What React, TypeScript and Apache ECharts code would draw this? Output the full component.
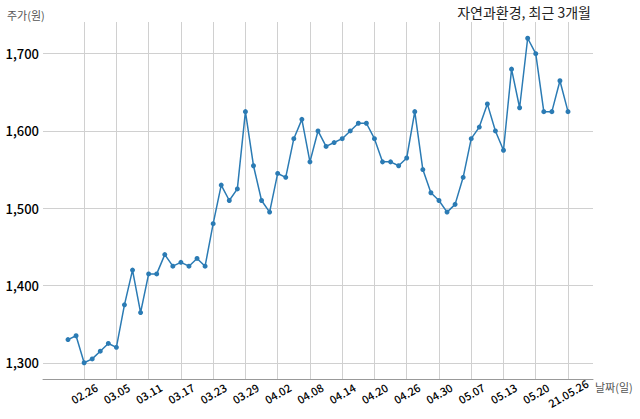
import { useEffect, useRef } from 'react'
import * as echarts from 'echarts'

// 거래일 (21.02.24 ~ 21.05.26)
const dates = [
  '02.24', '02.25', '02.26', '03.02', '03.03', '03.04', '03.05', '03.08',
  '03.09', '03.10', '03.11', '03.12', '03.15', '03.16', '03.17', '03.18',
  '03.19', '03.22', '03.23', '03.24', '03.25', '03.26', '03.29', '03.30',
  '03.31', '04.01', '04.02', '04.05', '04.06', '04.07', '04.08', '04.09',
  '04.12', '04.13', '04.14', '04.15', '04.16', '04.19', '04.20', '04.21',
  '04.22', '04.23', '04.26', '04.27', '04.28', '04.29', '04.30', '05.03',
  '05.04', '05.06', '05.07', '05.10', '05.11', '05.12', '05.13', '05.14',
  '05.17', '05.18', '05.20', '05.21', '05.24', '05.25', '21.05.26',
]

const prices = [
  1330, 1335, 1300, 1305, 1315, 1325, 1320, 1375,
  1420, 1365, 1415, 1415, 1440, 1425, 1430, 1425,
  1435, 1425, 1480, 1530, 1510, 1525, 1625, 1555,
  1510, 1495, 1545, 1540, 1590, 1615, 1560, 1600,
  1580, 1585, 1590, 1600, 1610, 1610, 1590, 1560,
  1560, 1555, 1565, 1625, 1550, 1520, 1510, 1495,
  1505, 1540, 1590, 1605, 1635, 1600, 1575, 1680,
  1630, 1720, 1700, 1625, 1625, 1665, 1625,
]

// 눈금을 표시할 거래일 위치
const xTickIndexes = [2, 6, 10, 14, 18, 22, 26, 30, 34, 38, 42, 46, 50, 54, 58, 62]
const yTicks = [1300, 1400, 1500, 1600, 1700]

const FONT = '"Noto Sans CJK KR", "Noto Sans", sans-serif'

export default function App() {
  const chartRef = useRef<HTMLDivElement>(null)

  useEffect(() => {
    if (!chartRef.current) return
    const chart = echarts.init(chartRef.current, undefined, { renderer: 'svg' })

    // matplotlib 기본 여백 5%
    const n = prices.length - 1
    const xPad = n * 0.05
    const yMin = Math.min(...prices)
    const yMax = Math.max(...prices)
    const yPad = (yMax - yMin) * 0.05

    chart.setOption({
      animation: false,
      textStyle: { fontFamily: FONT },
      grid: { left: 43, right: 47, top: 22, bottom: 40 },
      title: {
        text: '자연과환경, 최근 3개월',
        right: 49,
        top: 5,
        padding: 0,
        textStyle: { fontSize: 14, fontWeight: 'normal', color: '#222', fontFamily: FONT },
      },
      graphic: [
        {
          type: 'text',
          left: 7,
          top: 9,
          style: { text: '주가(원)', fontSize: 11, fill: '#555', fontFamily: FONT },
        },
        {
          type: 'text',
          left: 595,
          top: 381,
          style: { text: '날짜(일)', fontSize: 11, fill: '#555', fontFamily: FONT },
        },
      ],
      xAxis: {
        type: 'value',
        min: -xPad,
        max: n + xPad,
        axisLine: { show: true, lineStyle: { color: '#999', width: 1 } },
        axisTick: { show: false, customValues: xTickIndexes },
        splitLine: { show: true, lineStyle: { color: '#d0d0d0', width: 1 } },
        axisLabel: {
          customValues: xTickIndexes,
          rotate: 30,
          align: 'center',
          verticalAlign: 'middle',
          margin: 14,
          fontSize: 11,
          fontWeight: 500,
          color: '#000',
          fontFamily: FONT,
          formatter: (v: number) => dates[Math.round(v)] ?? '',
        },
      },
      yAxis: {
        type: 'value',
        min: yMin - yPad,
        max: yMax + yPad,
        axisLine: { show: false },
        axisTick: { show: false, customValues: yTicks },
        splitLine: { show: true, lineStyle: { color: '#d0d0d0', width: 1 } },
        axisLabel: {
          customValues: yTicks,
          margin: 4,
          fontSize: 13,
          fontWeight: 500,
          color: '#000',
          fontFamily: FONT,
          formatter: (v: number) => v.toLocaleString('en-US'),
        },
      },
      series: [
        {
          type: 'line',
          data: prices.map((p, i) => [i, p]),
          symbol: 'circle',
          symbolSize: 5,
          itemStyle: { color: '#2b7bb4' },
          lineStyle: { width: 1.5, color: '#2b7bb4' },
        },
      ],
    })

    return () => {
      chart.dispose()
    }
  }, [])

  return (
    <div
      ref={chartRef}
      style={{ position: 'absolute', left: 0, top: 0, width: 640, height: 419 }}
    />
  )
}
